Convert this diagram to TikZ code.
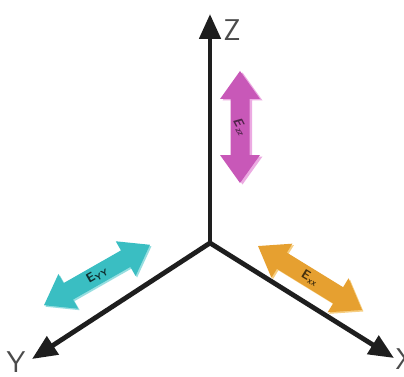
\documentclass[tikz,border=0pt]{standalone}
\usetikzlibrary{arrows.meta}
\definecolor{pinkA}{RGB}{200,88,184}
\definecolor{pinkB}{RGB}{236,170,226}
\definecolor{tealA}{RGB}{58,190,194}
\definecolor{tealB}{RGB}{150,222,224}
\definecolor{orngA}{RGB}{230,160,48}
\definecolor{orngB}{RGB}{246,206,130}
\definecolor{axisc}{RGB}{30,30,30}
\newcommand\dblarrshape[4]{% center, angle, half length, style
  \begin{scope}[shift={#1},rotate=#2]
    \fill[#4] (-#3,0) -- (-#3+28,20) -- (-#3+28,9.5) -- (#3-28,9.5) -- (#3-28,20)
      -- (#3,0) -- (#3-28,-20) -- (#3-28,-9.5) -- (-#3+28,-9.5) -- (-#3+28,-20) -- cycle;
  \end{scope}}
\begin{document}
\begin{tikzpicture}[x=1pt,y=-1pt,
  axis/.style={draw=axisc,line width=4.8pt,-{Triangle[length=25pt,width=21pt]}},
  axlabel/.style={font=\sffamily\fontsize{30}{30}\selectfont,text=axisc!80,inner sep=0pt},
  elab/.style={font=\sffamily\bfseries\fontsize{13}{13}\selectfont,inner sep=0pt}]
\useasboundingbox (0,0) rectangle (404,377);
\fill[white] (0,0) rectangle (404,377);
% origin and axis ends
\coordinate (o) at (210,243);
\coordinate (zt) at (210,14);
\coordinate (yt) at (32,359);
\coordinate (xt) at (394,358);
\coordinate (ezz) at (240,127);
\coordinate (eyy) at (97,275);
\coordinate (exx) at (310,278);
% double arrows
\dblarrshape{(242.5,128.5)}{90}{56}{pinkB}
\dblarrshape{(ezz)}{90}{56}{pinkA}
\node[elab,text=pinkA!40!black,rotate=-62] (ezzl) at (ezz) {\itshape E\textsubscript{zz}};
\dblarrshape{(98.5,276.5)}{29.7}{61}{tealB}
\dblarrshape{(eyy)}{29.7}{61}{tealA}
\node[elab,text=tealA!25!black,rotate=29.7] (eyyl) at (eyy) {E\textsubscript{YY}};
\dblarrshape{(311.5,279.5)}{-31.6}{61}{orngB}
\dblarrshape{(exx)}{-31.6}{61}{orngA}
\node[elab,text=orngA!30!black,rotate=-31.6] (exxl) at (exx) {E\textsubscript{xx}};
% axes
\draw[axis] (o) -- (zt);
\draw[axis] (o) -- (yt);
\draw[axis] (o) -- (xt);
\node[axlabel] (zl) at (232,30) {Z};
\node[axlabel] (yl) at (16,362) {Y};
\node[axlabel] (xl) at (405,359) {X};
\end{tikzpicture}
\end{document}
